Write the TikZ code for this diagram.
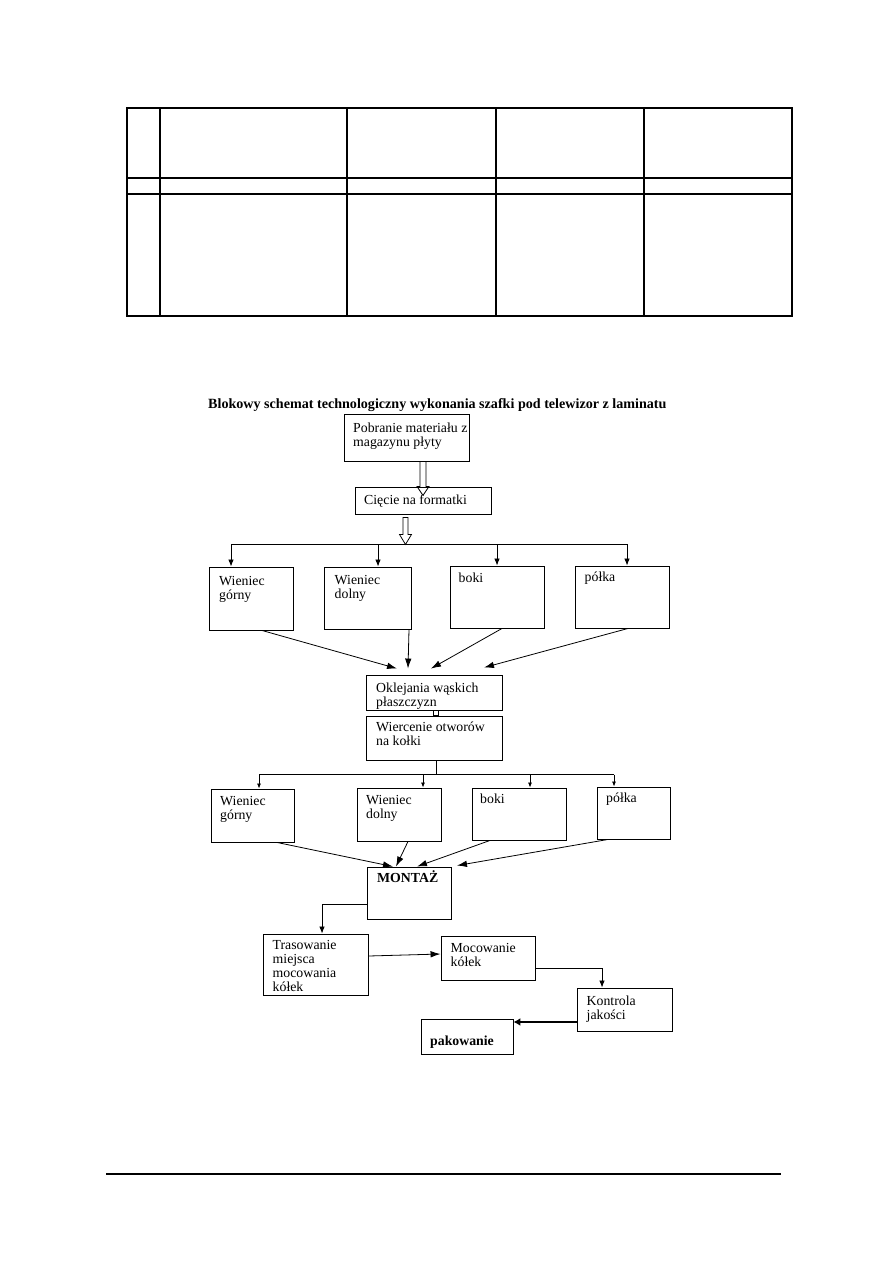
\documentclass[tikz,border=0pt]{standalone}
\usepackage{fontspec}
\setmainfont{Liberation Serif}
\usetikzlibrary{arrows.meta,calc,fit}
\begin{document}
\begin{tikzpicture}[x=1pt,y=-1pt,
 box/.style={draw=black, line width=0.9pt, inner sep=0pt},
 txt/.style={inner sep=0pt, align=left, font=\fontsize{13.8}{14}\selectfont},
 btxt/.style={inner sep=0pt, align=left, font=\fontsize{13.8}{14}\selectfont\bfseries},
 ttxt/.style={inner sep=0pt, font=\fontsize{14.1}{15}\selectfont\bfseries},
 conn/.style={line width=0.8pt},
 drop/.style={conn, -{Latex[length=7pt,width=5.5pt]}},
 sdrop/.style={conn, -{Latex[length=5pt,width=4pt]}},
 conv/.style={conn, -{Latex[length=10pt,width=6.5pt]}},
 hollowst/.style={line width=0.8pt, line join=miter},
 tab/.style={line width=1.3pt}
]
\useasboundingbox[fill=white] (0,0) rectangle (893,1263);

% table at the top of the page
\draw[tab] (127,108) rectangle (792,316);
\draw[tab] (127,178) -- (792,178);
\draw[tab] (127,194) -- (792,194);
\foreach \cx in {160,347,496,644} \draw[tab] (\cx,108) -- (\cx,316);
% footer rule
\draw[line width=1.2pt] (106,1174) -- (781,1174);

% title
\node[ttxt, anchor=base west] (title) at (208,408.5) {Blokowy schemat technologiczny wykonania szafki pod telewizor z laminatu};

% boxes
\node[box, fit={(344,414) (469,461)}] (P) {};
\node[box, fit={(355,487) (491,514)}] (C) {};
\node[box, fit={(209,567) (293,630)}] (W1a) {};
\node[box, fit={(324,567) (411,629)}] (W1b) {};
\node[box, fit={(450,566) (544,628)}] (B1) {};
\node[box, fit={(575,566) (669,628)}] (P1) {};
\node[box, fit={(366,675) (502,710)}] (O) {};
\node[box, fit={(366,716) (502,760)}] (Wc) {};
\node[box, fit={(211,789) (294,842)}] (W2a) {};
\node[box, fit={(357,788) (441,841)}] (W2b) {};
\node[box, fit={(472,788) (566,840)}] (B2) {};
\node[box, fit={(597,787) (670,839)}] (P2) {};
\node[box, fit={(367,867) (451,919)}] (M) {};
\node[box, fit={(263,934) (368,995)}] (T) {};
\node[box, fit={(441,936) (535,980)}] (Mc) {};
\node[box, fit={(577,988) (672,1031)}] (K) {};
\node[box, fit={(421,1019) (513,1054)}] (Pk) {};

% texts
\node[txt, anchor=north west] (Pt) at (353,422.5) {Pobranie materiału z\\magazynu płyty};
\node[txt, anchor=base west] (Ct) at (364,504) {Cięcie na formatki};
\node[txt, anchor=north west] (W1at) at (219,576) {Wieniec\\górny};
\node[txt, anchor=north west] (W1bt) at (334.5,575) {Wieniec\\dolny};
\node[txt, anchor=base west] (B1t) at (458.5,582.5) {boki};
\node[txt, anchor=base west] (P1t) at (584.5,581) {półka};
\node[txt, anchor=north west] (Ot) at (376,683) {Oklejania wąskich\\płaszczyzn};
\node[txt, anchor=north west] (Wct) at (376,722) {Wiercenie otworów\\na kołki};
\node[txt, anchor=north west] (W2at) at (220,796) {Wieniec\\górny};
\node[txt, anchor=north west] (W2bt) at (366,795.5) {Wieniec\\dolny};
\node[txt, anchor=base west] (B2t) at (480,803) {boki};
\node[txt, anchor=base west] (P2t) at (606,802.5) {półka};
\node[btxt, anchor=base west] (Mt) at (377,882) {MONTAŻ};
\node[txt, anchor=north west] (Tt) at (272.5,940) {Trasowanie\\miejsca\\mocowania\\kółek};
\node[txt, anchor=north west] (Mct) at (450.5,943) {Mocowanie\\kółek};
\node[txt, anchor=north west] (Kt) at (586.5,996) {Kontrola\\jakości};
\node[btxt, anchor=base west] (Pkt) at (430,1045) {pakowanie};

% hollow arrows
\draw[hollowst] ($(P.south)+(13.5,0)$) -- ++(0,25) -- ++(-3,0) -- ++(6,9) -- ++(6,-9) -- ++(-3,0) -- ++(0,-25);
\draw[hollowst] ($(C.south)+(-20,3)$) -- ++(0,17) -- ++(-3.5,0) -- ++(6,10) -- ++(6,-10) -- ++(-3.5,0) -- ++(0,-17) -- cycle;
\draw[conn] ($(O.south)+(-1,0)$) rectangle ($(Wc.north)+(4,0)$);

% first distribution
\coordinate (bL) at ($(W1a.north)+(-20,-22.5)$);
\coordinate (bR) at ($(P1.north)+(5,-21.5)$);
\draw[conn] (bL) -- (bR);
\draw[drop] (bL) -- ($(W1a.north)+(-20,0)$);
\draw[drop] ($(W1b.north)+(10.5,-22.5)$) -- ($(W1b.north)+(10.5,0)$);
\draw[drop] ($(B1.north)+(0,-21.5)$) -- (B1.north);
\draw[drop] (bR) -- ($(P1.north)+(5,0)$);

% converging to Oklejania
\draw[conv] ($(W1a.south)+(11,0)$) -- ($(O.north)+(-37,-6)$);
\draw[conv] ($(W1b.south)+(41.5,0)$) -- ($(O.north)+(-26,-6)$);
\draw[conv] ($(B1.south)+(5,0)$) -- ($(O.north)+(-3,-6)$);
\draw[conv] ($(P1.south)+(6,0)$) -- ($(O.north)+(50,-7)$);

% second distribution
\coordinate (cT) at ($(Wc.south)+(2,15)$);
\coordinate (cL) at ($(W2a.north)+(6.5,-14)$);
\coordinate (cR) at ($(P2.north)+(-19.5,-12)$);
\draw[conn] ($(Wc.south)+(2,0)$) -- (cT);
\draw[conn] (cL) -- (cL -| cR);
\draw[sdrop] (cL) -- ($(W2a.north)+(6.5,0)$);
\draw[sdrop] ($(W2b.north)+(24,-13)$) -- ($(W2b.north)+(24,0)$);
\draw[sdrop] ($(B2.north)+(11,-13)$) -- ($(B2.north)+(11,0)$);
\draw[sdrop] (cL -| cR) -- ($(P2.north)+(-19.5,0)$);

% converging to MONTAZ
\draw[conv] ($(W2a.south)+(24.5,0)$) -- ($(M.north)+(-16,0)$);
\draw[conv] ($(W2b.south)+(9,0)$) -- ($(M.north)+(-13,0)$);
\draw[conv] ($(B2.south)+(-29,0)$) -- ($(M.north)+(8,0)$);
\draw[conv] ($(P2.south)+(-25.5,0)$) -- ($(M.north)+(48,-1)$);

% lower chain
\draw[drop] ($(M.west)+(0,11)$) -| ($(T.north)+(6.5,0)$);
\draw[conv] ($(T.east)+(0,-8.5)$) -- ($(Mc.west)+(0,-4)$);
\draw[drop] ($(Mc.east)+(0,10)$) -| ($(K.north)+(-22.5,0)$);
\draw[line width=2.4pt, -{Latex[length=7pt,width=8pt]}] ($(K.west)+(0,12.5)$) -- ($(Pk.east)+(0,-14.5)$);
\end{tikzpicture}
\end{document}
